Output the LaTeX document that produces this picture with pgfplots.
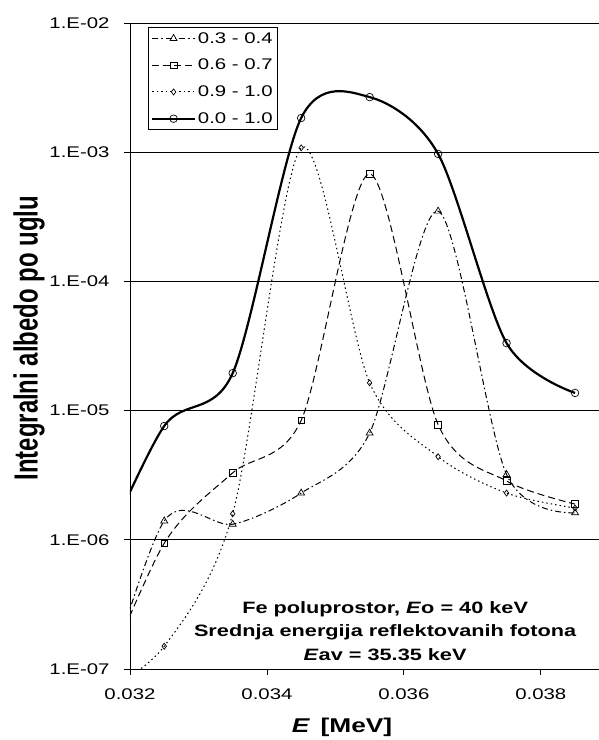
\documentclass[border=0pt]{standalone}
\usepackage{fontspec}
\setmainfont{Liberation Sans}[FakeStretch=1.32]
\newfontfamily\ylfont{Liberation Sans}
\usepackage{graphicx}
\usepackage{pgfplots}
\pgfplotsset{compat=1.18}
\usetikzlibrary{calc}

\pgfplotstableread{
x y
0.0315 4e-8
0.0325 1.40e-6
0.0335 1.32e-6
0.0345 2.3e-6
0.0355 6.7e-6
0.0365 3.5e-4
0.0375 3.2e-6
0.0385 1.62e-6
}\tA
\pgfplotstableread{
x y
0.0315 6e-8
0.0325 9.4e-7
0.0335 3.3e-6
0.0345 8.4e-6
0.0355 6.8e-4
0.0365 7.8e-6
0.0375 2.85e-6
0.0385 1.89e-6
}\tB
\pgfplotstableread{
x y
0.0315 6e-8
0.0325 1.5e-7
0.0335 1.59e-6
0.0345 1.08e-3
0.0355 1.64e-5
0.0365 4.4e-6
0.0375 2.3e-6
0.0385 1.76e-6
}\tC
\pgfplotstableread{
x y
0.0315 6e-7
0.0325 7.6e-6
0.0335 1.95e-5
0.0345 1.84e-3
0.0355 2.67e-3
0.0365 9.7e-4
0.0375 3.33e-5
0.0385 1.37e-5
}\tD

\tikzset{
  dashdotA/.style={dash pattern=on 6bp off 3bp on 1.5bp off 3bp},
  dashB/.style={dash pattern=on 7bp off 4bp},
  dotC/.style={dash pattern=on 1.5bp off 3bp},
}

\begin{document}
\begin{tikzpicture}
\begin{axis}[name=ax, scale only axis, width=469bp, height=646bp,
  ymode=log, xmin=0.032, xmax=0.03885, ymin=1e-7, ymax=1e-2,
  axis x line=bottom, axis y line=left,
  axis line style={-, line width=0.9bp},
  xtick={0.032,0.034,0.036,0.038},
  xticklabels={0.032,0.034,0.036,0.038},
  scaled x ticks=false,
  ytick={1e-7,1e-6,1e-5,1e-4,1e-3,1e-2},
  yticklabels={1.E-07,1.E-06,1.E-05,1.E-04,1.E-03,1.E-02},
  yminorticks=false,
  tick align=outside, major tick length=6bp,
  tick style={black, line width=0.8bp},
  ymajorgrids, major grid style={black, line width=0.7bp},
  ticklabel style={font=\fontsize{15.5}{18}\selectfont},
  yticklabel style={xshift=-11bp},
  xticklabel style={yshift=-10bp},
  ylabel={\scalebox{1}[1.4]{\ylfont\bfseries\fontsize{24}{27}\selectfont Integralni albedo po uglu}},
  ylabel style={at={(axis description cs:-0.2154,0.512)}, anchor=center},
  xlabel={\bfseries\fontsize{20}{24}\selectfont\textit{E}\, [MeV]},
  xlabel style={at={(axis description cs:0.452,-0.0898)}, anchor=center},
  legend style={at={(axis description cs:0.038,0.994)}, anchor=north west,
    draw=black, line width=0.8bp, fill=white, font=\fontsize{15.5}{18}\selectfont,
    inner sep=3bp, row sep=10.5bp, cells={anchor=west}},
  legend image code/.code={\draw[mark repeat=2,mark phase=2,#1] plot coordinates {(0cm,0cm) (0.75cm,0cm) (1.5cm,0cm)};},
  every axis plot/.append style={black},
]
\addlegendimage{black, line width=1bp, dashdotA, mark=triangle, mark size=4bp, mark options={solid, line width=0.7bp}}
\addlegendentry{0.3 - 0.4}
\addlegendimage{black, line width=1bp, dashB, mark=square, mark size=3.3bp, mark options={solid, line width=0.7bp}}
\addlegendentry{0.6 - 0.7}
\addlegendimage{black, line width=1bp, dotC, mark=diamond, mark size=3bp, mark options={solid, line width=0.7bp}}
\addlegendentry{0.9 - 1.0}
\addlegendimage{black, line width=2.2bp, mark=o, mark size=3.8bp, mark options={solid, line width=0.7bp}}
\addlegendentry{0.0 - 1.0}

\addplot[forget plot, smooth, line width=1bp, dashdotA, mark=triangle, mark size=4bp, mark indices={1,2,3,4,5,6,7,8}, mark options={solid, line width=0.7bp}] table[x=x,y=y] {\tA};
\addplot[forget plot, smooth, line width=1bp, dashB, mark=square, mark size=3.3bp, mark indices={1,2,3,4,5,6,7,8}, mark options={solid, line width=0.7bp}] table[x=x,y=y] {\tB};
\addplot[forget plot, smooth, line width=1bp, dotC, mark=diamond, mark size=3bp, mark indices={1,2,3,4,5,6,7,8}, mark options={solid, line width=0.7bp}] table[x=x,y=y] {\tC};
\addplot[forget plot, smooth, line width=2.2bp, mark=o, mark size=3.8bp, mark indices={1,2,3,4,5,6,7,8}, mark options={solid, line width=0.7bp}] table[x=x,y=y] {\tD};

\node[align=center, font=\bfseries\fontsize{16.5}{23.5}\selectfont] at (axis description cs:0.544,0.059)
  {Fe poluprostor, \textit{E}o = 40 keV\\Srednja energija reflektovanih fotona\\\textit{E}av = 35.35 keV};
\end{axis}
\pgfresetboundingbox
\path ($(ax.south west)+(-130bp,-71bp)$) rectangle ($(ax.north east)+(0bp,23bp)$);
\end{tikzpicture}
\end{document}
